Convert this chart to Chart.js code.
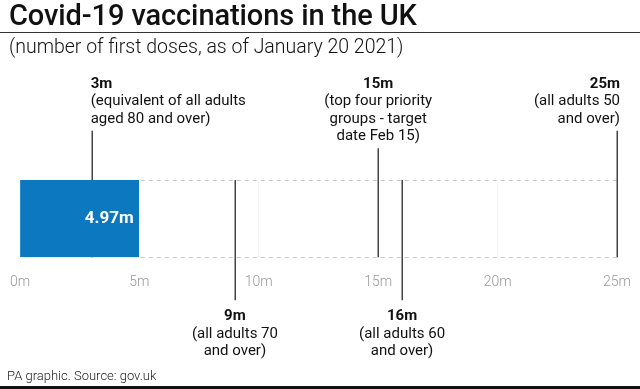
<!DOCTYPE html>
<html lang="en">
<head>
  <meta charset="UTF-8" />
  <title>Covid-19 vaccinations in the UK</title>
  <script src="https://cdn.jsdelivr.net/npm/chart.js"></script>
  <style>
    html, body {
      margin: 0;
      background: #fff;
    }
    .frame {
      position: relative;
      width: 640px;
      height: 389px;
      overflow: hidden;
      font-family: Roboto, 'Noto Sans', sans-serif;
      color: #111;
    }
    .frame canvas {
      position: absolute;
      left: 0;
      top: 0;
    }
    .title {
      position: absolute;
      left: 9px;
      top: 1px;
      font-size: 29px;
      line-height: 29px;
      font-weight: 500;
      letter-spacing: -0.1px;
      white-space: nowrap;
    }
    .rule {
      position: absolute;
      left: 0;
      top: 32px;
      width: 640px;
      height: 1px;
      background: #333;
    }
    .subtitle {
      position: absolute;
      left: 9px;
      top: 37px;
      font-size: 19.5px;
      line-height: 19.5px;
      font-weight: 300;
      white-space: nowrap;
    }
    .footer {
      position: absolute;
      left: 7px;
      top: 369px;
      font-size: 13px;
      line-height: 13px;
      font-weight: 300;
      color: #222;
    }
    .bottomBar {
      position: absolute;
      left: 0;
      top: 386px;
      width: 640px;
      height: 3px;
      background: #111;
    }
  </style>
</head>
<body>
  <div class="frame">
    <canvas id="chart" width="640" height="389"></canvas>
    <div class="title">Covid-19 vaccinations in the UK</div>
    <div class="rule"></div>
    <div class="subtitle">(number of first doses, as of January 20 2021)</div>
    <div class="footer">PA graphic. Source: gov.uk</div>
    <div class="bottomBar"></div>
  </div>

  <script>
    // Data
    const categories = ['UK'];
    const firstDoses = [4.97];
    const barLabels = ['4.97m'];
    const axisMin = 0;
    const axisMax = 25;
    const tickStep = 5;

    const markerValues = [3, 9, 15, 16, 25];
    const markerTitles = ['3m', '9m', '15m', '16m', '25m'];
    const markerNotes = [
      ['(equivalent of all adults', 'aged 80 and over)'],
      ['(all adults 70', 'and over)'],
      ['(top four priority', 'groups - target', 'date Feb 15)'],
      ['(all adults 60', 'and over)'],
      ['(all adults 50', 'and over)']
    ];
    // where each marker's note sits
    const markerSide = ['above', 'below', 'above', 'below', 'above'];
    const markerAlign = ['left', 'center', 'center', 'center', 'right'];

    Chart.defaults.font.family = 'Roboto';

    const LINE_H = 17.4;

    const markerPlugin = {
      id: 'markers',
      beforeDatasetsDraw(chart) {
        const { ctx, scales: { x } } = chart;
        const bar = chart.getDatasetMeta(0).data[0];
        const top = bar.y - bar.height / 2;
        const bottom = bar.y + bar.height / 2;

        ctx.save();
        // dashed outline of the remaining target
        ctx.strokeStyle = '#c8c8c8';
        ctx.lineWidth = 1;
        ctx.setLineDash([4, 4]);
        [top, bottom].forEach(y => {
          ctx.beginPath();
          ctx.moveTo(bar.x + 2, Math.round(y) + 0.5);
          ctx.lineTo(x.getPixelForValue(axisMax), Math.round(y) + 0.5);
          ctx.stroke();
        });
        ctx.setLineDash([]);

        // marker lines
        ctx.strokeStyle = '#444';
        ctx.lineWidth = 1.5;
        markerValues.forEach((v, i) => {
          const px = Math.round(x.getPixelForValue(v)) + 0.25;
          let y1, y2;
          if (markerSide[i] === 'above') {
            const lastBase = top - 92 + LINE_H * markerNotes[i].length;
            y1 = lastBase + 8;
            y2 = bottom;
          } else {
            y1 = top;
            y2 = bottom + 43;
          }
          ctx.beginPath();
          ctx.moveTo(px, y1);
          ctx.lineTo(px, y2);
          ctx.stroke();
        });
        ctx.restore();
      },
      afterDatasetsDraw(chart) {
        const { ctx, scales: { x } } = chart;
        const meta = chart.getDatasetMeta(0);
        const bar = meta.data[0];
        const top = bar.y - bar.height / 2;
        const bottom = bar.y + bar.height / 2;

        ctx.save();
        // value label inside bar
        ctx.fillStyle = '#fff';
        ctx.font = 'bold 17px Roboto';
        ctx.textAlign = 'right';
        ctx.textBaseline = 'middle';
        meta.data.forEach((el, i) => {
          ctx.fillText(barLabels[i], el.x - 5, el.y);
        });

        // marker texts
        ctx.fillStyle = '#111';
        ctx.textBaseline = 'alphabetic';
        markerValues.forEach((v, i) => {
          const px = x.getPixelForValue(v);
          const align = markerAlign[i];
          let tx = px;
          if (align === 'left') tx = px - 1;
          if (align === 'right') tx = px + 3;
          ctx.textAlign = align;
          let base = markerSide[i] === 'above' ? top - 92 : bottom + 63;
          ctx.font = 'bold 15px Roboto';
          ctx.fillText(markerTitles[i], tx, base);
          ctx.font = '15px Roboto';
          markerNotes[i].forEach(line => {
            base += LINE_H;
            ctx.fillText(line, tx, base);
          });
        });
        ctx.restore();
      }
    };

    new Chart(document.getElementById('chart'), {
      type: 'bar',
      data: {
        labels: categories,
        datasets: [{
          data: firstDoses,
          backgroundColor: '#0b78bf',
          borderWidth: 0,
          barPercentage: 1,
          categoryPercentage: 1
        }]
      },
      options: {
        indexAxis: 'y',
        responsive: false,
        animation: false,
        layout: { padding: { left: 20, right: 23, top: 180, bottom: 95 } },
        plugins: {
          legend: { display: false },
          tooltip: { enabled: false }
        },
        scales: {
          x: {
            type: 'linear',
            min: axisMin,
            max: axisMax,
            border: { display: false },
            grid: {
              color: '#f3f3f3',
              drawTicks: true,
              tickLength: 14,
              tickColor: 'rgba(0,0,0,0)'
            },
            ticks: {
              stepSize: tickStep,
              padding: 3,
              color: '#999999',
              font: { size: 14, weight: 300 },
              callback: v => v + 'm'
            }
          },
          y: { display: false }
        }
      },
      plugins: [markerPlugin]
    });
  </script>
</body>
</html>
